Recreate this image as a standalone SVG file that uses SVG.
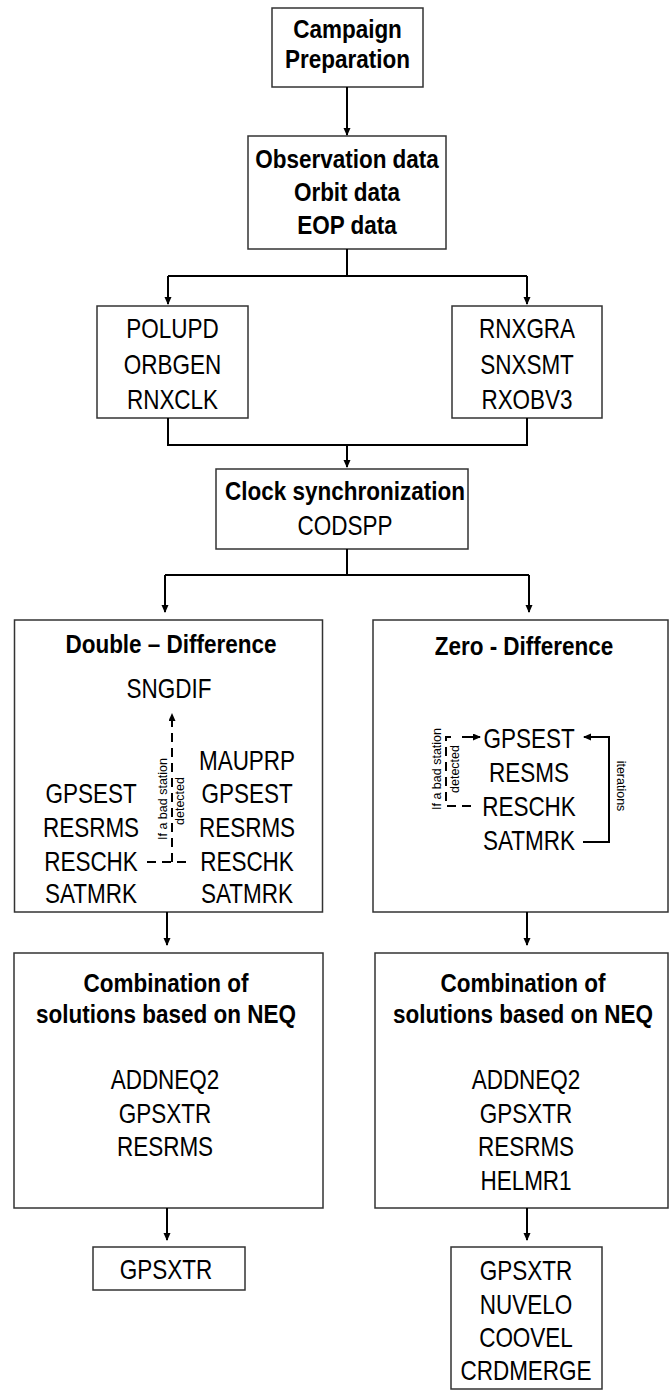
<svg xmlns="http://www.w3.org/2000/svg" width="670" height="1392" viewBox="0 0 670 1392">
<style>
.box{fill:#fff;stroke:#333;stroke-width:1.5}
.b{font-family:"Liberation Sans",Arial,sans-serif;font-weight:bold;font-size:22.5px;text-anchor:middle;fill:#000}
.r{font-family:"Liberation Sans",Arial,sans-serif;font-size:22.5px;text-anchor:middle;fill:#000}
.s{font-family:"Liberation Sans",Arial,sans-serif;font-size:12.5px;text-anchor:middle;fill:#000}
.c{fill:none;stroke:#000;stroke-width:2}
.a{marker-end:url(#ah)}
.d{fill:none;stroke:#000;stroke-width:2;stroke-dasharray:9 6}
</style>
<defs>
<marker id="ah" markerUnits="userSpaceOnUse" markerWidth="8" markerHeight="8" refX="7" refY="3.5" orient="auto"><path d="M0,0 L8,3.5 L0,7 z" fill="#000"/></marker>
</defs>
<rect width="670" height="1392" fill="#fff"/>
<g id="campaign">
<rect class="box" x="272" y="8" width="151" height="79"/>
<text class="b" transform="translate(347.5,38) scale(1,1.14)">Campaign</text>
<text class="b" transform="translate(347.5,68) scale(1,1.14)">Preparation</text>
</g>
<g id="data">
<rect class="box" x="248" y="136" width="198" height="113"/>
<text class="b" transform="translate(347,168) scale(1,1.14)">Observation data</text>
<text class="b" transform="translate(347,201) scale(1,1.14)">Orbit data</text>
<text class="b" transform="translate(347,234) scale(1,1.14)">EOP data</text>
</g>
<g id="polupd">
<rect class="box" x="97" y="306" width="151" height="112"/>
<text class="r" transform="translate(172.5,338) scale(1,1.22)">POLUPD</text>
<text class="r" transform="translate(172.5,374) scale(1,1.22)">ORBGEN</text>
<text class="r" transform="translate(172.5,409) scale(1,1.22)">RNXCLK</text>
</g>
<g id="rnxgra">
<rect class="box" x="452" y="306" width="150" height="112"/>
<text class="r" transform="translate(527,338) scale(1,1.22)">RNXGRA</text>
<text class="r" transform="translate(527,374) scale(1,1.22)">SNXSMT</text>
<text class="r" transform="translate(527,409) scale(1,1.22)">RXOBV3</text>
</g>
<g id="clock">
<rect class="box" x="216" y="469" width="252" height="80"/>
<text class="b" transform="translate(345,500) scale(1,1.14)">Clock synchronization</text>
<text class="r" transform="translate(345,535) scale(1,1.22)">CODSPP</text>
</g>
<g id="double-difference">
<rect class="box" x="14.5" y="620" width="308" height="292"/>
<text class="b" transform="translate(171,653) scale(1,1.14)">Double – Difference</text>
<text class="r" transform="translate(169,698) scale(1,1.22)">SNGDIF</text>
<text class="r" transform="translate(91,803) scale(1,1.22)">GPSEST</text>
<text class="r" transform="translate(91,837) scale(1,1.22)">RESRMS</text>
<text class="r" transform="translate(91,871) scale(1,1.22)">RESCHK</text>
<text class="r" transform="translate(91,903) scale(1,1.22)">SATMRK</text>
<text class="r" transform="translate(247,770) scale(1,1.22)">MAUPRP</text>
<text class="r" transform="translate(247,803) scale(1,1.22)">GPSEST</text>
<text class="r" transform="translate(247,837) scale(1,1.22)">RESRMS</text>
<text class="r" transform="translate(247,871) scale(1,1.22)">RESCHK</text>
<text class="r" transform="translate(247,903) scale(1,1.22)">SATMRK</text>
<text class="s" transform="translate(167,799) rotate(-90)">If a bad station</text>
<text class="s" transform="translate(184,801) rotate(-90)">detected</text>
</g>
<g id="zero-difference">
<rect class="box" x="373" y="620" width="295" height="292"/>
<text class="b" transform="translate(524,655) scale(1,1.14)">Zero - Difference</text>
<text class="r" transform="translate(529,748) scale(1,1.22)">GPSEST</text>
<text class="r" transform="translate(529,782) scale(1,1.22)">RESMS</text>
<text class="r" transform="translate(529,816) scale(1,1.22)">RESCHK</text>
<text class="r" transform="translate(529,850) scale(1,1.22)">SATMRK</text>
<text class="s" transform="translate(441,769) rotate(-90)">If a bad station</text>
<text class="s" transform="translate(459,769) rotate(-90)">detected</text>
<text class="s" transform="translate(617,786) rotate(90)">iterations</text>
</g>
<g id="combination-dd">
<rect class="box" x="14" y="953" width="309" height="255"/>
<text class="b" transform="translate(166,992) scale(1,1.14)">Combination of</text>
<text class="b" transform="translate(166,1023) scale(1,1.14)">solutions based on NEQ</text>
<text class="r" transform="translate(165,1089) scale(1,1.22)">ADDNEQ2</text>
<text class="r" transform="translate(165,1123) scale(1,1.22)">GPSXTR</text>
<text class="r" transform="translate(165,1156) scale(1,1.22)">RESRMS</text>
</g>
<g id="combination-zd">
<rect class="box" x="375" y="953" width="293" height="255"/>
<text class="b" transform="translate(523,992) scale(1,1.14)">Combination of</text>
<text class="b" transform="translate(523,1023) scale(1,1.14)">solutions based on NEQ</text>
<text class="r" transform="translate(526,1089) scale(1,1.22)">ADDNEQ2</text>
<text class="r" transform="translate(526,1123) scale(1,1.22)">GPSXTR</text>
<text class="r" transform="translate(526,1156) scale(1,1.22)">RESRMS</text>
<text class="r" transform="translate(526,1190) scale(1,1.22)">HELMR1</text>
</g>
<g id="gpsxtr-dd">
<rect class="box" x="93" y="1247" width="152" height="43"/>
<text class="r" transform="translate(166,1279) scale(1,1.22)">GPSXTR</text>
</g>
<g id="outputs-zd">
<rect class="box" x="451" y="1247" width="151" height="142"/>
<text class="r" transform="translate(526,1280) scale(1,1.22)">GPSXTR</text>
<text class="r" transform="translate(526,1314) scale(1,1.22)">NUVELO</text>
<text class="r" transform="translate(526,1347) scale(1,1.22)">COOVEL</text>
<text class="r" transform="translate(526,1380) scale(1,1.22)">CRDMERGE</text>
</g>
<g id="connectors">
<path class="c a" d="M347,87 V135"/>
<path class="c" d="M347,249 V276 M168,276 H527"/>
<path class="c a" d="M168,276 V304"/>
<path class="c a" d="M527,276 V304"/>
<path class="c" d="M168,418 V445 H527 V418"/>
<path class="c a" d="M347,445 V467"/>
<path class="c" d="M347,549 V575 M165,575 H529"/>
<path class="c a" d="M165,575 V612"/>
<path class="c a" d="M529,575 V612"/>
<path class="c a" d="M167,912 V945"/>
<path class="c a" d="M527,912 V945"/>
<path class="c a" d="M167,1208 V1240"/>
<path class="c a" d="M527,1208 V1240"/>
<path class="d" d="M147,862 H190"/>
<path class="d a" d="M172,862 V714"/>
<path class="d" d="M471,806 H446 V737 H456"/>
<path class="c a" d="M462,737 H480"/>
<path class="c a" d="M583,842 H609 V737 H584"/>
</g>
</svg>
